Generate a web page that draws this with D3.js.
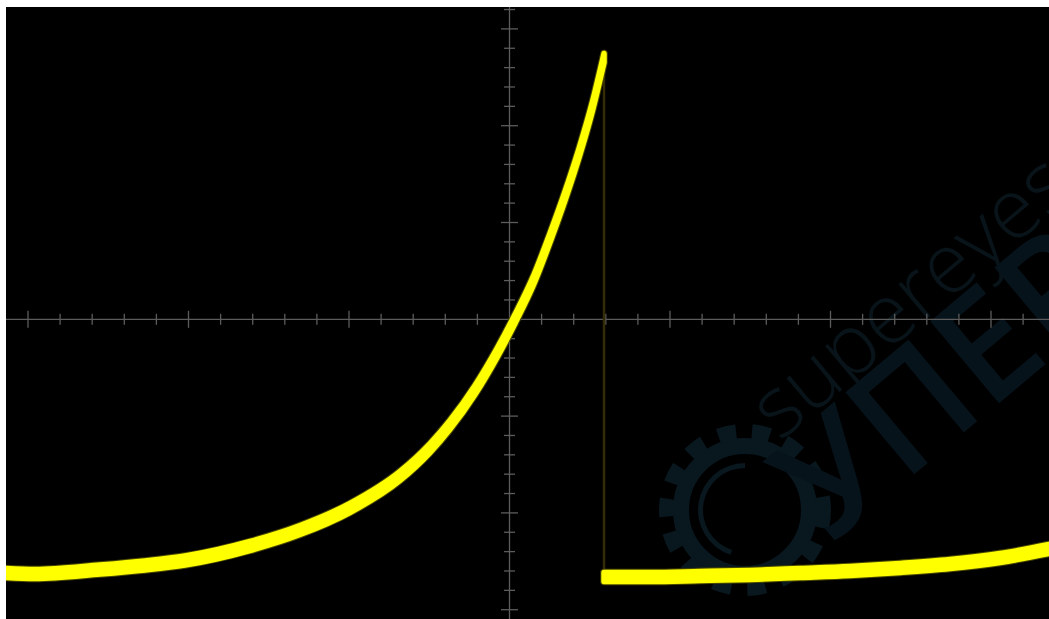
<!DOCTYPE html>
<html>
<head>
<meta charset="utf-8">
<script src="https://cdn.jsdelivr.net/npm/d3@7/dist/d3.min.js"></script>
<style>
  html, body { margin: 0; padding: 0; background: #ffffff; }
  svg { display: block; }
</style>
</head>
<body>
<svg id="chart" width="1049" height="619"></svg>
<script>
// ---- data (time and voltage in screen divisions) ----
const rampTime    = [-3.137, -2.956, -2.551, -2.271, -2.022, -1.617, -1.305, -0.994, -0.682, -0.495, -0.371, -0.215, -0.078, 0.034, 0.153, 0.252, 0.346, 0.439, 0.514, 0.589];
const rampVoltage = [-2.621, -2.631, -2.585, -2.543, -2.492, -2.342, -2.177, -1.949, -1.618, -1.330, -1.091, -0.730, -0.349, 0.003, 0.416, 0.840, 1.274, 1.749, 2.183, 2.700];
const tailTime    = [0.589, 0.875, 1.187, 1.498, 1.810, 2.121, 2.433, 2.745, 3.056, 3.361];
const tailVoltage = [-2.662, -2.662, -2.652, -2.641, -2.621, -2.600, -2.569, -2.528, -2.466, -2.373];
const xMajorTicks = [-3, -2, -1, 0, 1, 2, 3];
const yMajorTicks = [-3, -2, -1, 0, 1, 2, 3];
const watermarkText = "supereyes";
const watermarkText2 = "УПЕР";

// ---- layout ----
const plot = { left: 6, top: 7, right: 1049, bottom: 619 };
const cx = 509.5, cy = 319.3, divX = 160.5, divY = 96.8;

const x = d3.scaleLinear().domain([0, 1]).range([cx, cx + divX]);
const y = d3.scaleLinear().domain([0, 1]).range([cy, cy - divY]);

const svg = d3.select("#chart");

svg.append("rect")
  .attr("x", plot.left).attr("y", plot.top)
  .attr("width", plot.right - plot.left).attr("height", plot.bottom - plot.top)
  .attr("fill", "#000000");

svg.append("clipPath").attr("id", "clip")
  .append("rect")
  .attr("x", plot.left).attr("y", plot.top)
  .attr("width", plot.right - plot.left).attr("height", plot.bottom - plot.top);

const g = svg.append("g").attr("clip-path", "url(#clip)");

// ---- watermark ----
const wm = g.append("g");
const wmColor = "#09171f";
const gear = wm.append("g").attr("transform", "translate(745,510)");
gear.append("circle").attr("r", 64).attr("fill", "none")
  .attr("stroke", wmColor).attr("stroke-width", 16);
gear.append("circle").attr("r", 78).attr("fill", "none")
  .attr("stroke", wmColor).attr("stroke-width", 16)
  .attr("stroke-dasharray", "18 16");
gear.append("circle").attr("r", 52).attr("fill", "#000000");
gear.append("path")
  .attr("d", d3.arc()({ innerRadius: 42, outerRadius: 47, startAngle: Math.PI * 1.1, endAngle: Math.PI * 2.0 }))
  .attr("fill", wmColor);

wm.append("text")
  .attr("transform", "translate(780,442) rotate(-40)")
  .attr("font-family", "Open Sans, sans-serif")
  .attr("font-weight", 300)
  .attr("font-size", 84)
  .attr("fill", "#081419")
  .text(watermarkText);

wm.append("text")
  .attr("transform", "translate(830,545) rotate(-40)")
  .attr("font-family", "Open Sans, sans-serif")
  .attr("font-weight", 600)
  .attr("font-size", 150)
  .attr("fill", "#07131b")
  .text(watermarkText2);

// ---- axes ----
const axisColor = "#5c5c5c";
const ax = g.append("g").attr("stroke", axisColor).attr("stroke-width", 1.3);
ax.append("line")
  .attr("x1", plot.left).attr("x2", plot.right)
  .attr("y1", y(0)).attr("y2", y(0));
ax.append("line")
  .attr("x1", x(0)).attr("x2", x(0))
  .attr("y1", plot.top).attr("y2", plot.bottom);

const xMinor = d3.range(-15, 17).map(i => i / 5).filter(v => !xMajorTicks.includes(v));
const yMinor = d3.range(-15, 17).map(i => i / 5).filter(v => !yMajorTicks.includes(v));

ax.selectAll(".xminor").data(xMinor).join("line")
  .attr("x1", d => x(d)).attr("x2", d => x(d))
  .attr("y1", y(0) - 5.5).attr("y2", y(0) + 5.5);
ax.selectAll(".xmajor").data(xMajorTicks.filter(v => v !== 0)).join("line")
  .attr("x1", d => x(d)).attr("x2", d => x(d))
  .attr("y1", y(0) - 8.5).attr("y2", y(0) + 8.5);
ax.selectAll(".yminor").data(yMinor).join("line")
  .attr("y1", d => y(d)).attr("y2", d => y(d))
  .attr("x1", x(0) - 5.5).attr("x2", x(0) + 5.5);
ax.selectAll(".ymajor").data(yMajorTicks.filter(v => v !== 0)).join("line")
  .attr("y1", d => y(d)).attr("y2", d => y(d))
  .attr("x1", x(0) - 8.5).attr("x2", x(0) + 8.5);

// ---- trace ----
const ramp = rampTime.map((t, i) => ({ t, v: rampVoltage[i] }));
const tail = tailTime.map((t, i) => ({ t, v: tailVoltage[i] }));

// falling edge (dim)
g.append("line")
  .attr("x1", x(ramp[ramp.length - 1].t)).attr("x2", x(tail[0].t))
  .attr("y1", y(ramp[ramp.length - 1].v) - 6).attr("y2", y(tail[0].v))
  .attr("stroke", "#332c05").attr("stroke-width", 2.5);

const half = 4.5;
const band = d3.area()
  .x(d => x(d.t))
  .y0(d => y(d.v) + half)
  .y1(d => y(d.v) - half)
  .curve(d3.curveMonotoneX);

[ramp, tail].forEach(seg => {
  g.append("path").attr("d", band(seg))
    .attr("fill", "#4a4a00").attr("stroke", "#4a4a00")
    .attr("stroke-width", 7.5).attr("stroke-linejoin", "round");
  g.append("path").attr("d", band(seg))
    .attr("fill", "#ffff00").attr("stroke", "#ffff00")
    .attr("stroke-width", 5.5).attr("stroke-linejoin", "round");
});
</script>
</body>
</html>
